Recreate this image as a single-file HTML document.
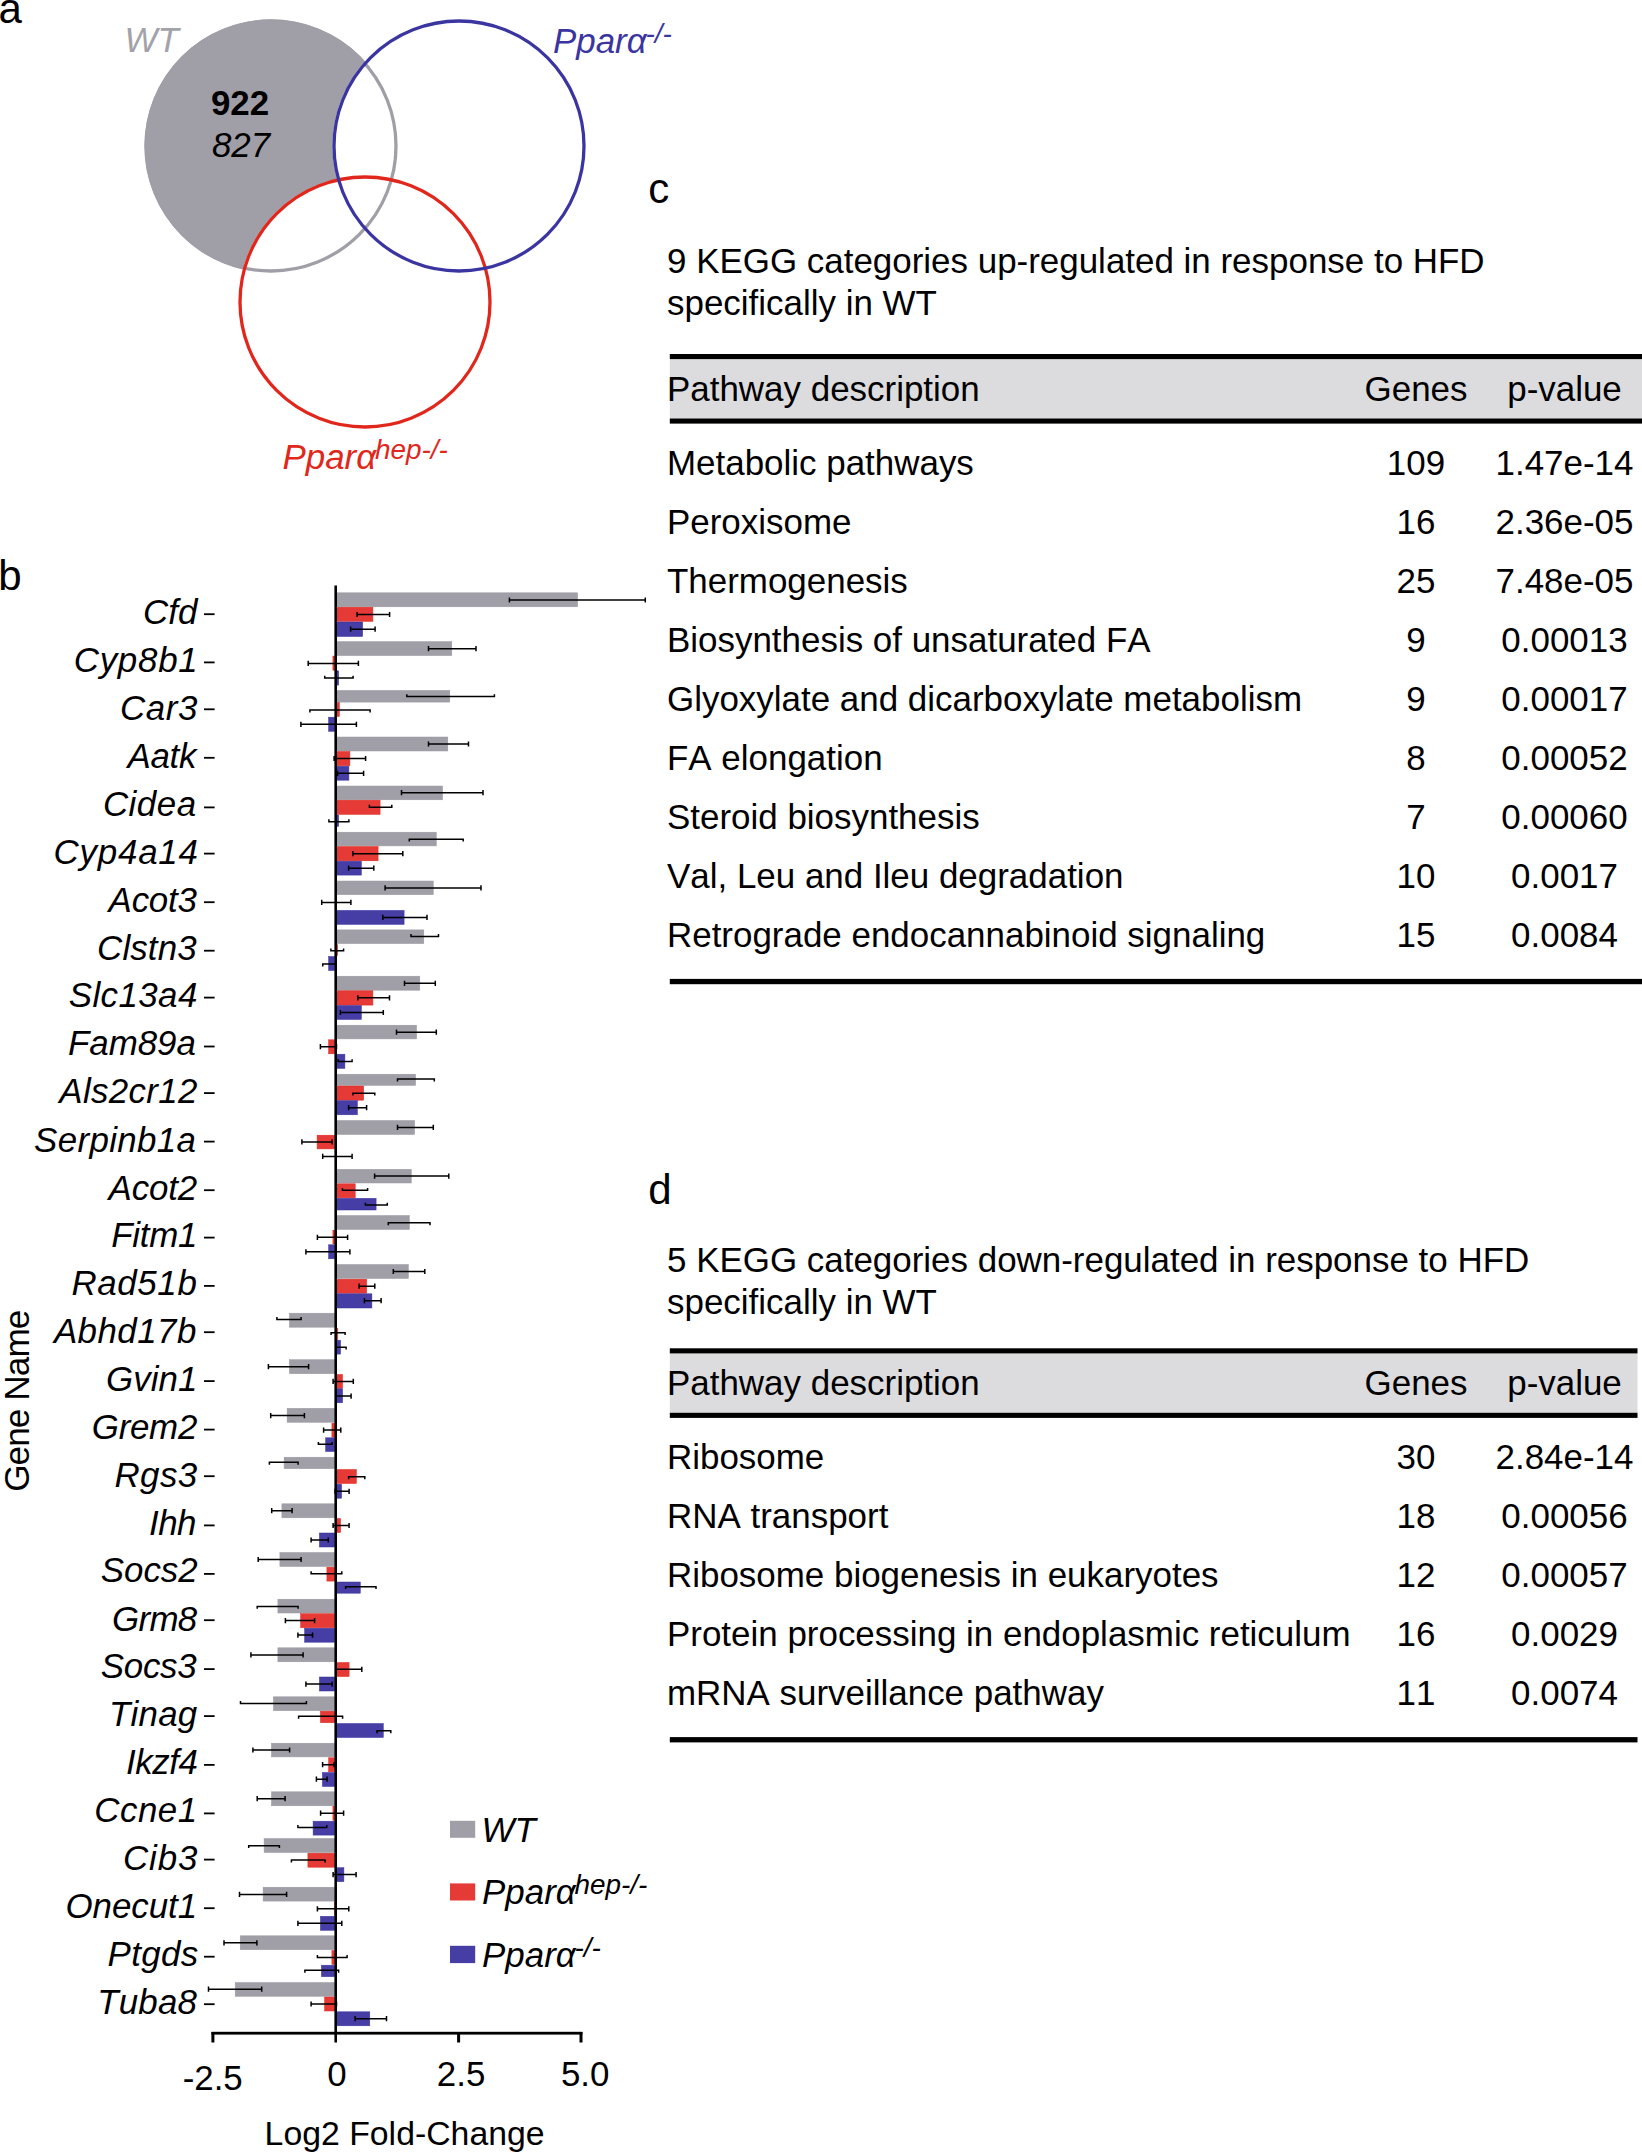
<!DOCTYPE html>
<html lang="en"><head><meta charset="utf-8"><title>Figure</title>
<style>
html,body{margin:0;padding:0;background:#fff;}
svg{display:block;font-family:"Liberation Sans",Arial,sans-serif;fill:#000;font-kerning:none;}
.g{font-style:italic;font-size:34.9px;}
.t{font-size:34.95px;font-kerning:none;}
.c{text-anchor:middle;}
.e{stroke:#000;stroke-width:1.5;fill:none;}
</style></head><body>
<svg width="1642" height="2153" viewBox="0 0 1642 2153">
<rect width="1642" height="2153" fill="#fff"/>
<defs><mask id="m"><rect width="700" height="500" fill="#fff"/><circle cx="459" cy="146" r="126.5" fill="#000"/><circle cx="365" cy="302" r="126.5" fill="#000"/></mask></defs>
<circle cx="271" cy="146" r="126.5" fill="#a09fa7" mask="url(#m)"/>
<circle cx="271" cy="146" r="125" fill="none" stroke="#a09fa7" stroke-width="3.3"/>
<circle cx="365" cy="302" r="125" fill="none" stroke="#e1261c" stroke-width="3.3"/>
<circle cx="459" cy="146" r="125" fill="none" stroke="#3b35a1" stroke-width="3.3"/>
<text x="-1.6" y="22.8" font-size="42">a</text>
<text x="124.5" y="52.4" font-size="34.9" font-style="italic" fill="#a3a2aa">WT</text>
<text x="553" y="52.9" font-size="34.9" font-style="italic" fill="#3b35a1">Ppar&#945;<tspan dy="-10" dx="-1.2" font-size="27.9">-/-</tspan></text>
<text x="282.5" y="468.5" font-size="34.9" font-style="italic" fill="#e1261c">Ppar&#945;<tspan dy="-10" dx="-1.2" font-size="27.9">hep-/-</tspan></text>
<text x="240" y="114.5" font-size="34.9" font-weight="bold" class="c">922</text>
<text x="241" y="157" font-size="34.9" font-style="italic" class="c">827</text>
<text x="-1.7" y="590.4" font-size="42">b</text>
<text transform="translate(28.8,1401.2) rotate(-90)" font-size="35.3" letter-spacing="-1" class="c">Gene Name</text>
<text class="g" x="143.1" y="624.1" style="letter-spacing:-0.05px">Cfd</text><rect x="204" y="613.3" width="10.6" height="1.8"/>
<rect x="336.8" y="592.8" width="240.8" height="14.0" fill="#a09fa7" stroke="#9a99a2" stroke-width="0.5"/><rect x="336.8" y="607.2" width="36.1" height="14.2" fill="#e53a36" stroke="#e1261c" stroke-width="0.5"/><rect x="336.8" y="622.0" width="25.9" height="14.5" fill="#463da5" stroke="#3b35a1" stroke-width="0.5"/>
<text class="g" x="73.7" y="672.1" style="letter-spacing:0.76px">Cyp8b1</text><rect x="204" y="661.5" width="10.6" height="1.8"/>
<rect x="336.8" y="641.6" width="115.0" height="14.0" fill="#a09fa7" stroke="#9a99a2" stroke-width="0.5"/><rect x="332.9" y="656.1" width="1.8" height="14.1" fill="#e53a36" stroke="#e1261c" stroke-width="0.5"/><rect x="336.8" y="670.8" width="1.9" height="14.3" fill="#463da5" stroke="#3b35a1" stroke-width="0.5"/>
<text class="g" x="119.9" y="719.7" style="letter-spacing:0.60px">Car3</text><rect x="204" y="708.4" width="10.6" height="1.8"/>
<rect x="336.8" y="690.4" width="113.0" height="11.7" fill="#a09fa7" stroke="#9a99a2" stroke-width="0.5"/><rect x="336.8" y="702.5" width="2.6" height="14.0" fill="#e53a36" stroke="#e1261c" stroke-width="0.5"/><rect x="328.6" y="717.2" width="6.0" height="14.1" fill="#463da5" stroke="#3b35a1" stroke-width="0.5"/>
<text class="g" x="127.6" y="767.9" style="letter-spacing:-0.33px">Aatk</text><rect x="204" y="756.9" width="10.6" height="1.8"/>
<rect x="336.8" y="737.0" width="111.0" height="14.0" fill="#a09fa7" stroke="#9a99a2" stroke-width="0.5"/><rect x="336.8" y="751.5" width="13.1" height="14.2" fill="#e53a36" stroke="#e1261c" stroke-width="0.5"/><rect x="336.8" y="766.2" width="12.1" height="14.0" fill="#463da5" stroke="#3b35a1" stroke-width="0.5"/>
<text class="g" x="102.9" y="815.7" style="letter-spacing:0.50px">Cidea</text><rect x="204" y="806.5" width="10.6" height="1.8"/>
<rect x="336.8" y="786.0" width="105.8" height="13.8" fill="#a09fa7" stroke="#9a99a2" stroke-width="0.5"/><rect x="336.8" y="800.2" width="43.3" height="14.2" fill="#e53a36" stroke="#e1261c" stroke-width="0.5"/><rect x="336.8" y="815.0" width="1.9" height="11.5" fill="#463da5" stroke="#3b35a1" stroke-width="0.5"/>
<text class="g" x="53.6" y="863.7" style="letter-spacing:0.78px">Cyp4a14</text><rect x="204" y="852.7" width="10.6" height="1.8"/>
<rect x="336.8" y="832.2" width="99.5" height="13.7" fill="#a09fa7" stroke="#9a99a2" stroke-width="0.5"/><rect x="336.8" y="846.5" width="41.3" height="14.3" fill="#e53a36" stroke="#e1261c" stroke-width="0.5"/><rect x="336.8" y="861.2" width="24.6" height="13.9" fill="#463da5" stroke="#3b35a1" stroke-width="0.5"/>
<text class="g" x="108.6" y="911.6" style="letter-spacing:-0.23px">Acot3</text><rect x="204" y="901.3" width="10.6" height="1.8"/>
<rect x="336.8" y="881.0" width="96.5" height="13.7" fill="#a09fa7" stroke="#9a99a2" stroke-width="0.5"/><rect x="336.8" y="910.4" width="67.3" height="14.0" fill="#463da5" stroke="#3b35a1" stroke-width="0.5"/>
<text class="g" x="97.1" y="959.7" style="letter-spacing:0.12px">Clstn3</text><rect x="204" y="949.8" width="10.6" height="1.8"/>
<rect x="336.8" y="929.9" width="87.0" height="13.7" fill="#a09fa7" stroke="#9a99a2" stroke-width="0.5"/><rect x="336.8" y="944.5" width="0.9" height="11.2" fill="#e53a36" stroke="#e1261c" stroke-width="0.5"/><rect x="328.6" y="956.5" width="6.0" height="14.0" fill="#463da5" stroke="#3b35a1" stroke-width="0.5"/>
<text class="g" x="68.7" y="1007.4" style="letter-spacing:0.43px">Slc13a4</text><rect x="204" y="996.7" width="10.6" height="1.8"/>
<rect x="336.8" y="976.2" width="83.0" height="14.0" fill="#a09fa7" stroke="#9a99a2" stroke-width="0.5"/><rect x="336.8" y="990.8" width="36.1" height="14.3" fill="#e53a36" stroke="#e1261c" stroke-width="0.5"/><rect x="336.8" y="1005.5" width="24.6" height="14.0" fill="#463da5" stroke="#3b35a1" stroke-width="0.5"/>
<text class="g" x="68.0" y="1055.2" style="letter-spacing:-0.02px">Fam89a</text><rect x="204" y="1045.6" width="10.6" height="1.8"/>
<rect x="336.8" y="1025.2" width="79.8" height="13.7" fill="#a09fa7" stroke="#9a99a2" stroke-width="0.5"/><rect x="328.6" y="1039.8" width="6.0" height="14.0" fill="#e53a36" stroke="#e1261c" stroke-width="0.5"/><rect x="336.8" y="1054.2" width="8.1" height="14.2" fill="#463da5" stroke="#3b35a1" stroke-width="0.5"/>
<text class="g" x="59.3" y="1103.2" style="letter-spacing:0.34px">Als2cr12</text><rect x="204" y="1092.2" width="10.6" height="1.8"/>
<rect x="336.8" y="1074.2" width="78.8" height="11.2" fill="#a09fa7" stroke="#9a99a2" stroke-width="0.5"/><rect x="336.8" y="1086.0" width="26.9" height="14.2" fill="#e53a36" stroke="#e1261c" stroke-width="0.5"/><rect x="336.8" y="1100.7" width="20.6" height="14.1" fill="#463da5" stroke="#3b35a1" stroke-width="0.5"/>
<text class="g" x="34.1" y="1151.7" style="letter-spacing:0.35px">Serpinb1a</text><rect x="204" y="1140.7" width="10.6" height="1.8"/>
<rect x="336.8" y="1120.5" width="77.8" height="14.0" fill="#a09fa7" stroke="#9a99a2" stroke-width="0.5"/><rect x="317.1" y="1135.2" width="17.5" height="13.7" fill="#e53a36" stroke="#e1261c" stroke-width="0.5"/>
<text class="g" x="108.6" y="1199.6" style="letter-spacing:-0.15px">Acot2</text><rect x="204" y="1189.3" width="10.6" height="1.8"/>
<rect x="336.8" y="1169.3" width="74.5" height="13.7" fill="#a09fa7" stroke="#9a99a2" stroke-width="0.5"/><rect x="336.8" y="1183.8" width="18.4" height="14.0" fill="#e53a36" stroke="#e1261c" stroke-width="0.5"/><rect x="336.8" y="1198.3" width="39.3" height="11.7" fill="#463da5" stroke="#3b35a1" stroke-width="0.5"/>
<text class="g" x="111.3" y="1247.4" style="letter-spacing:-0.25px">Fitm1</text><rect x="204" y="1236.7" width="10.6" height="1.8"/>
<rect x="336.8" y="1215.5" width="72.6" height="14.0" fill="#a09fa7" stroke="#9a99a2" stroke-width="0.5"/><rect x="332.9" y="1230.2" width="1.8" height="13.8" fill="#e53a36" stroke="#e1261c" stroke-width="0.5"/><rect x="328.6" y="1244.8" width="6.0" height="14.0" fill="#463da5" stroke="#3b35a1" stroke-width="0.5"/>
<text class="g" x="71.4" y="1295.0" style="letter-spacing:0.64px">Rad51b</text><rect x="204" y="1285.0" width="10.6" height="1.8"/>
<rect x="336.8" y="1264.5" width="71.6" height="14.0" fill="#a09fa7" stroke="#9a99a2" stroke-width="0.5"/><rect x="336.8" y="1279.2" width="29.9" height="14.0" fill="#e53a36" stroke="#e1261c" stroke-width="0.5"/><rect x="336.8" y="1293.8" width="35.1" height="14.2" fill="#463da5" stroke="#3b35a1" stroke-width="0.5"/>
<text class="g" x="53.9" y="1343.2" style="letter-spacing:0.45px">Abhd17b</text><rect x="204" y="1331.3" width="10.6" height="1.8"/>
<rect x="289.4" y="1313.2" width="45.3" height="14.0" fill="#a09fa7" stroke="#9a99a2" stroke-width="0.5"/><rect x="336.8" y="1328.2" width="1.0" height="11.5" fill="#e53a36" stroke="#e1261c" stroke-width="0.5"/><rect x="336.8" y="1340.2" width="3.8" height="13.9" fill="#463da5" stroke="#3b35a1" stroke-width="0.5"/>
<text class="g" x="105.9" y="1391.2" style="letter-spacing:0.10px">Gvin1</text><rect x="204" y="1380.2" width="10.6" height="1.8"/>
<rect x="289.4" y="1359.7" width="45.3" height="14.0" fill="#a09fa7" stroke="#9a99a2" stroke-width="0.5"/><rect x="336.8" y="1374.5" width="5.8" height="13.9" fill="#e53a36" stroke="#e1261c" stroke-width="0.5"/><rect x="336.8" y="1388.8" width="5.8" height="14.0" fill="#463da5" stroke="#3b35a1" stroke-width="0.5"/>
<text class="g" x="91.8" y="1439.0" style="letter-spacing:-0.28px">Grem2</text><rect x="204" y="1428.7" width="10.6" height="1.8"/>
<rect x="287.1" y="1408.3" width="47.5" height="14.0" fill="#a09fa7" stroke="#9a99a2" stroke-width="0.5"/><rect x="331.9" y="1423.2" width="2.8" height="13.9" fill="#e53a36" stroke="#e1261c" stroke-width="0.5"/><rect x="325.6" y="1437.8" width="9.1" height="13.7" fill="#463da5" stroke="#3b35a1" stroke-width="0.5"/>
<text class="g" x="114.5" y="1486.5" style="letter-spacing:0.40px">Rgs3</text><rect x="204" y="1475.3" width="10.6" height="1.8"/>
<rect x="284.1" y="1457.2" width="50.5" height="11.5" fill="#a09fa7" stroke="#9a99a2" stroke-width="0.5"/><rect x="336.8" y="1469.5" width="19.6" height="14.0" fill="#e53a36" stroke="#e1261c" stroke-width="0.5"/><rect x="336.8" y="1484.2" width="4.8" height="14.0" fill="#463da5" stroke="#3b35a1" stroke-width="0.5"/>
<text class="g" x="149.1" y="1534.5" style="letter-spacing:-0.60px">Ihh</text><rect x="204" y="1524.5" width="10.6" height="1.8"/>
<rect x="281.9" y="1503.8" width="52.8" height="14.0" fill="#a09fa7" stroke="#9a99a2" stroke-width="0.5"/><rect x="336.8" y="1518.5" width="3.8" height="14.0" fill="#e53a36" stroke="#e1261c" stroke-width="0.5"/><rect x="319.4" y="1533.0" width="15.3" height="14.0" fill="#463da5" stroke="#3b35a1" stroke-width="0.5"/>
<text class="g" x="100.8" y="1582.3" style="letter-spacing:-0.03px">Socs2</text><rect x="204" y="1573.0" width="10.6" height="1.8"/>
<rect x="279.9" y="1552.5" width="54.7" height="14.0" fill="#a09fa7" stroke="#9a99a2" stroke-width="0.5"/><rect x="326.9" y="1567.2" width="7.8" height="13.9" fill="#e53a36" stroke="#e1261c" stroke-width="0.5"/><rect x="336.8" y="1582.0" width="23.5" height="11.2" fill="#463da5" stroke="#3b35a1" stroke-width="0.5"/>
<text class="g" x="111.9" y="1630.5" style="letter-spacing:-0.63px">Grm8</text><rect x="204" y="1619.3" width="10.6" height="1.8"/>
<rect x="277.9" y="1599.2" width="56.7" height="13.8" fill="#a09fa7" stroke="#9a99a2" stroke-width="0.5"/><rect x="300.6" y="1613.7" width="34.0" height="14.0" fill="#e53a36" stroke="#e1261c" stroke-width="0.5"/><rect x="304.6" y="1628.2" width="30.0" height="14.0" fill="#463da5" stroke="#3b35a1" stroke-width="0.5"/>
<text class="g" x="100.8" y="1678.4" style="letter-spacing:-0.28px">Socs3</text><rect x="204" y="1668.2" width="10.6" height="1.8"/>
<rect x="277.9" y="1647.8" width="56.7" height="14.0" fill="#a09fa7" stroke="#9a99a2" stroke-width="0.5"/><rect x="336.8" y="1662.5" width="12.3" height="14.0" fill="#e53a36" stroke="#e1261c" stroke-width="0.5"/><rect x="319.4" y="1677.0" width="15.3" height="14.0" fill="#463da5" stroke="#3b35a1" stroke-width="0.5"/>
<text class="g" x="108.9" y="1726.3" style="letter-spacing:0.27px">Tinag</text><rect x="204" y="1715.2" width="10.6" height="1.8"/>
<rect x="273.4" y="1696.8" width="61.2" height="13.9" fill="#a09fa7" stroke="#9a99a2" stroke-width="0.5"/><rect x="320.4" y="1711.2" width="14.3" height="11.5" fill="#e53a36" stroke="#e1261c" stroke-width="0.5"/><rect x="336.8" y="1723.5" width="46.5" height="14.0" fill="#463da5" stroke="#3b35a1" stroke-width="0.5"/>
<text class="g" x="126.0" y="1774.2" style="letter-spacing:-0.42px">Ikzf4</text><rect x="204" y="1764.0" width="10.6" height="1.8"/>
<rect x="271.4" y="1743.2" width="63.2" height="13.7" fill="#a09fa7" stroke="#9a99a2" stroke-width="0.5"/><rect x="328.6" y="1757.8" width="6.1" height="14.0" fill="#e53a36" stroke="#e1261c" stroke-width="0.5"/><rect x="322.4" y="1772.5" width="12.3" height="14.0" fill="#463da5" stroke="#3b35a1" stroke-width="0.5"/>
<text class="g" x="94.2" y="1822.1" style="letter-spacing:0.53px">Ccne1</text><rect x="204" y="1812.5" width="10.6" height="1.8"/>
<rect x="271.4" y="1791.8" width="63.2" height="14.0" fill="#a09fa7" stroke="#9a99a2" stroke-width="0.5"/><rect x="332.9" y="1806.5" width="1.8" height="14.0" fill="#e53a36" stroke="#e1261c" stroke-width="0.5"/><rect x="313.1" y="1821.2" width="21.5" height="13.9" fill="#463da5" stroke="#3b35a1" stroke-width="0.5"/>
<text class="g" x="122.9" y="1869.9" style="letter-spacing:0.93px">Cib3</text><rect x="204" y="1858.7" width="10.6" height="1.8"/>
<rect x="264.1" y="1838.5" width="70.5" height="14.0" fill="#a09fa7" stroke="#9a99a2" stroke-width="0.5"/><rect x="307.9" y="1853.2" width="26.8" height="14.0" fill="#e53a36" stroke="#e1261c" stroke-width="0.5"/><rect x="336.8" y="1867.7" width="7.1" height="14.0" fill="#463da5" stroke="#3b35a1" stroke-width="0.5"/>
<text class="g" x="65.4" y="1917.9" style="letter-spacing:-0.02px">Onecut1</text><rect x="204" y="1907.3" width="10.6" height="1.8"/>
<rect x="263.1" y="1887.2" width="71.5" height="13.9" fill="#a09fa7" stroke="#9a99a2" stroke-width="0.5"/><rect x="334.2" y="1901.8" width="0.4" height="13.9" fill="#e53a36" stroke="#e1261c" stroke-width="0.5"/><rect x="320.4" y="1916.3" width="14.3" height="14.0" fill="#463da5" stroke="#3b35a1" stroke-width="0.5"/>
<text class="g" x="107.5" y="1965.8" style="letter-spacing:0.38px">Ptgds</text><rect x="204" y="1955.8" width="10.6" height="1.8"/>
<rect x="240.2" y="1935.8" width="94.4" height="13.9" fill="#a09fa7" stroke="#9a99a2" stroke-width="0.5"/><rect x="331.9" y="1950.5" width="2.8" height="14.0" fill="#e53a36" stroke="#e1261c" stroke-width="0.5"/><rect x="321.4" y="1965.2" width="13.3" height="11.5" fill="#463da5" stroke="#3b35a1" stroke-width="0.5"/>
<text class="g" x="97.2" y="2013.7" style="letter-spacing:0.20px">Tuba8</text><rect x="204" y="2003.3" width="10.6" height="1.8"/>
<rect x="235.2" y="1982.5" width="99.4" height="13.8" fill="#a09fa7" stroke="#9a99a2" stroke-width="0.5"/><rect x="324.6" y="1997.0" width="10.1" height="14.0" fill="#e53a36" stroke="#e1261c" stroke-width="0.5"/><rect x="336.8" y="2011.8" width="33.0" height="14.0" fill="#463da5" stroke="#3b35a1" stroke-width="0.5"/>
<rect x="334.4" y="585.5" width="2.6" height="1457" fill="#000"/>
<rect x="211.5" y="2031.8" width="370.9" height="2.8" fill="#000"/>
<rect x="211.4" y="2032" width="3" height="10.5" fill="#000"/><rect x="457.1" y="2032" width="3" height="10.5" fill="#000"/><rect x="579.5" y="2032" width="3" height="10.5" fill="#000"/>
<path class="e" d="M508.9 600.0H645.8M509.4 597.4V602.6M645.3 597.4V602.6"/><path class="e" d="M356.6 614.5H390.1M357.1 611.9V617.1M389.6 611.9V617.1"/><path class="e" d="M350.1 629.2H375.6M350.6 626.6V631.8M375.1 626.6V631.8"/>
<path class="e" d="M428.0 648.7H476.5M428.5 646.1V651.3M476.0 646.1V651.3"/><path class="e" d="M307.7 663.4H358.9M308.2 660.8V666.0M358.4 660.8V666.0"/><path class="e" d="M324.2 678.1H353.6M324.7 675.7V678.8M353.1 675.7V678.8"/>
<path class="e" d="M406.3 696.6H494.9M406.8 694.2V697.3M494.4 694.2V697.3"/><path class="e" d="M309.4 710.0H370.6M309.9 709.3V712.4M370.1 709.3V712.4"/><path class="e" d="M300.4 724.3H356.9M300.9 721.7V726.9M356.4 721.7V726.9"/>
<path class="e" d="M428.0 744.0H469.0M428.5 741.4V746.6M468.5 741.4V746.6"/><path class="e" d="M333.6 758.5H366.1M334.1 755.9V761.1M365.6 755.9V761.1"/><path class="e" d="M337.0 773.3H364.1M337.5 770.7V775.9M363.6 770.7V775.9"/>
<path class="e" d="M401.0 792.7H483.5M401.5 790.1V795.3M483.0 790.1V795.3"/><path class="e" d="M368.9 807.2H392.3M369.4 804.8V807.9M391.8 804.8V807.9"/><path class="e" d="M328.4 821.7H349.4M328.9 819.3V822.4M348.9 819.3V822.4"/>
<path class="e" d="M408.8 839.2H463.7M409.3 838.5V841.6M463.2 838.5V841.6"/><path class="e" d="M352.4 853.7H403.3M352.9 851.1V856.3M402.8 851.1V856.3"/><path class="e" d="M348.1 868.2H374.3M348.6 865.6V870.8M373.8 865.6V870.8"/>
<path class="e" d="M384.6 887.9H481.5M385.1 885.3V890.5M481.0 885.3V890.5"/><path class="e" d="M321.2 902.4H351.4M321.7 899.8V905.0M350.9 899.8V905.0"/><path class="e" d="M382.3 917.4H427.5M382.8 914.8V920.0M427.0 914.8V920.0"/>
<path class="e" d="M410.5 936.4H439.0M411.0 934.0V937.1M438.5 934.0V937.1"/><path class="e" d="M330.4 950.8H344.1M330.9 948.4V951.5M343.6 948.4V951.5"/><path class="e" d="M322.2 964.0H335.0M322.7 963.3V966.4"/>
<path class="e" d="M404.0 983.3H435.8M404.5 980.7V985.9M435.3 980.7V985.9"/><path class="e" d="M357.4 997.8H390.0M357.9 995.2V1000.4M389.5 995.2V1000.4"/><path class="e" d="M339.9 1012.5H383.8M340.4 1009.9V1015.1M383.3 1009.9V1015.1"/>
<path class="e" d="M396.0 1032.2H436.8M396.5 1029.6V1034.8M436.3 1029.6V1034.8"/><path class="e" d="M319.9 1046.7H337.0M320.4 1044.1V1049.3M336.5 1044.1V1049.3"/><path class="e" d="M337.6 1061.6H352.6M338.1 1059.2V1062.3M352.1 1059.2V1062.3"/>
<path class="e" d="M397.0 1079.0H434.8M397.5 1078.3V1081.4M434.3 1078.3V1081.4"/><path class="e" d="M352.4 1093.2H375.3M352.9 1092.5V1095.6M374.8 1092.5V1095.6"/><path class="e" d="M348.1 1107.7H367.1M348.6 1105.1V1110.3M366.6 1105.1V1110.3"/>
<path class="e" d="M397.0 1127.4H433.8M397.5 1124.8V1130.0M433.3 1124.8V1130.0"/><path class="e" d="M301.4 1141.9H332.6M301.9 1139.3V1144.5M332.1 1139.3V1144.5"/><path class="e" d="M322.2 1156.4H352.6M322.7 1153.8V1159.0M352.1 1153.8V1159.0"/>
<path class="e" d="M374.1 1176.1H449.3M374.6 1173.5V1178.7M448.8 1173.5V1178.7"/><path class="e" d="M341.9 1190.3H368.1M342.4 1187.9V1191.0M367.6 1187.9V1191.0"/><path class="e" d="M364.9 1205.1H387.8M365.4 1202.7V1205.8M387.3 1202.7V1205.8"/>
<path class="e" d="M387.8 1222.8H430.5M388.3 1222.1V1225.2M430.0 1222.1V1225.2"/><path class="e" d="M316.9 1237.3H348.1M317.4 1234.7V1239.9M347.6 1234.7V1239.9"/><path class="e" d="M305.4 1251.8H350.4M305.9 1249.2V1254.4M349.9 1249.2V1254.4"/>
<path class="e" d="M392.8 1271.5H425.3M393.3 1268.9V1274.1M424.8 1268.9V1274.1"/><path class="e" d="M358.6 1286.2H375.3M359.1 1283.6V1288.8M374.8 1283.6V1288.8"/><path class="e" d="M363.9 1300.7H381.6M364.4 1298.1V1303.3M381.1 1298.1V1303.3"/>
<path class="e" d="M276.4 1319.5H301.6M276.9 1317.1V1320.2M301.1 1317.1V1320.2"/><path class="e" d="M330.6 1332.7H345.6M331.1 1332.0V1335.1M345.1 1332.0V1335.1"/><path class="e" d="M337.0 1347.2H346.6M346.1 1346.5V1349.6"/>
<path class="e" d="M267.9 1366.7H309.1M268.4 1364.1V1369.3M308.6 1364.1V1369.3"/><path class="e" d="M332.6 1381.4H353.8M333.1 1378.8V1384.0M353.3 1378.8V1384.0"/><path class="e" d="M337.0 1396.1H351.6M351.1 1393.5V1398.7"/>
<path class="e" d="M270.2 1415.6H304.9M270.7 1413.0V1418.2M304.4 1413.0V1418.2"/><path class="e" d="M323.1 1430.1H341.3M323.6 1427.5V1432.7M340.8 1427.5V1432.7"/><path class="e" d="M317.9 1444.3H332.6M318.4 1441.9V1445.0M332.1 1441.9V1445.0"/>
<path class="e" d="M268.9 1462.3H298.6M269.4 1461.6V1464.7M298.1 1461.6V1464.7"/><path class="e" d="M348.1 1476.8H365.3M348.6 1476.1V1479.2M364.8 1476.1V1479.2"/><path class="e" d="M334.6 1491.3H349.6M335.1 1488.7V1493.9M349.1 1488.7V1493.9"/>
<path class="e" d="M271.2 1510.7H292.6M271.7 1508.1V1513.3M292.1 1508.1V1513.3"/><path class="e" d="M332.6 1525.5H349.6M333.1 1522.9V1528.1M349.1 1522.9V1528.1"/><path class="e" d="M310.6 1540.0H328.8M311.1 1537.4V1542.6M328.3 1537.4V1542.6"/>
<path class="e" d="M257.7 1559.5H301.6M258.2 1556.9V1562.1M301.1 1556.9V1562.1"/><path class="e" d="M310.6 1573.7H342.3M311.1 1571.3V1574.4M341.8 1571.3V1574.4"/><path class="e" d="M345.1 1586.7H376.5M345.6 1586.0V1589.1M376.0 1586.0V1589.1"/>
<path class="e" d="M256.7 1606.4H298.6M257.2 1605.7V1608.8M298.1 1605.7V1608.8"/><path class="e" d="M284.9 1620.6H315.1M285.4 1618.0V1623.2M314.6 1618.0V1623.2"/><path class="e" d="M297.4 1635.1H313.1M297.9 1632.5V1637.7M312.6 1632.5V1637.7"/>
<path class="e" d="M250.4 1654.9H303.6M250.9 1652.3V1657.5M303.1 1652.3V1657.5"/><path class="e" d="M337.0 1669.3H362.3M361.8 1666.7V1671.9"/><path class="e" d="M305.4 1684.1H332.6M305.9 1681.5V1686.7M332.1 1681.5V1686.7"/>
<path class="e" d="M240.0 1703.5H306.9M240.5 1701.1V1704.2M306.4 1701.1V1704.2"/><path class="e" d="M298.1 1716.3H343.1M298.6 1715.6V1718.7M342.6 1715.6V1718.7"/><path class="e" d="M376.5 1730.8H391.3M377.0 1730.1V1733.2M390.8 1730.1V1733.2"/>
<path class="e" d="M252.4 1750.0H290.1M252.9 1747.4V1752.6M289.6 1747.4V1752.6"/><path class="e" d="M322.1 1764.7H334.6M322.6 1762.1V1767.3M334.1 1762.1V1767.3"/><path class="e" d="M315.9 1779.2H327.6M316.4 1776.6V1781.8M327.1 1776.6V1781.8"/>
<path class="e" d="M256.7 1798.7H285.6M257.2 1796.1V1801.3M285.1 1796.1V1801.3"/><path class="e" d="M320.1 1813.2H344.1M320.6 1810.6V1815.8M343.6 1810.6V1815.8"/><path class="e" d="M297.4 1827.4H327.3M297.9 1825.0V1828.1M326.8 1825.0V1828.1"/>
<path class="e" d="M248.2 1845.7H279.9M248.7 1845.0V1848.1M279.4 1845.0V1848.1"/><path class="e" d="M290.9 1860.1H325.6M291.4 1859.4V1862.5M325.1 1859.4V1862.5"/><path class="e" d="M332.6 1874.6H356.6M333.1 1872.0V1877.2M356.1 1872.0V1877.2"/>
<path class="e" d="M239.0 1894.4H287.1M239.5 1891.8V1897.0M286.6 1891.8V1897.0"/><path class="e" d="M316.9 1908.8H349.3M317.4 1906.2V1911.4M348.8 1906.2V1911.4"/><path class="e" d="M297.4 1923.3H342.3M297.9 1920.7V1925.9M341.8 1920.7V1925.9"/>
<path class="e" d="M223.5 1942.8H257.4M224.0 1940.2V1945.4M256.9 1940.2V1945.4"/><path class="e" d="M316.9 1957.5H347.6M317.4 1955.1V1958.2M347.1 1955.1V1958.2"/><path class="e" d="M304.4 1970.3H339.1M304.9 1969.6V1972.7M338.6 1969.6V1972.7"/>
<path class="e" d="M208.0 1989.2H262.2M208.5 1986.6V1991.8M261.7 1986.6V1991.8"/><path class="e" d="M310.6 2004.0H337.0M311.1 2001.4V2006.6M336.5 2001.4V2006.6"/><path class="e" d="M354.6 2018.7H387.0M355.1 2016.1V2021.3M386.5 2016.1V2021.3"/>
<text x="212.7" y="2090" font-size="34.9" class="c">-2.5</text><text x="337" y="2086.4" font-size="34.9" class="c">0</text><text x="461.1" y="2086.4" font-size="34.9" class="c">2.5</text><text x="585.2" y="2086.4" font-size="34.9" class="c">5.0</text>
<text x="404.6" y="2144.7" font-size="33.8" class="c">Log2 Fold-Change</text>
<rect x="450" y="1820.8" width="25.2" height="17" fill="#a09fa7"/><rect x="450" y="1883.4" width="25.2" height="17.1" fill="#e53a36"/><rect x="450" y="1945.8" width="25.2" height="17.3" fill="#463da5"/>
<text x="481.6" y="1841.6" font-size="34.9" font-style="italic">WT</text>
<text x="482.1" y="1903.9" font-size="34.9" font-style="italic">Ppar&#945;<tspan dy="-10" dx="-1.2" font-size="27.9">hep-/-</tspan></text>
<text x="482.1" y="1966.5" font-size="34.9" font-style="italic">Ppar&#945;<tspan dy="-10" dx="-1.2" font-size="27.9">-/-</tspan></text>
<text x="648.2" y="203.4" font-size="42">c</text>
<text class="t" x="667" y="272.8">9 KEGG categories up-regulated in response to HFD</text>
<text class="t" x="667" y="314.8">specifically in WT</text>
<rect x="669.8" y="358.9" width="972.2" height="59.8" fill="#dcdcde"/><rect x="669.8" y="354.0" width="972.2" height="5.1" fill="#000"/><rect x="669.8" y="418.5" width="972.2" height="5.1" fill="#000"/>
<text class="t" x="667" y="400.6">Pathway description</text><text class="t c" x="1416" y="400.6">Genes</text><text class="t c" x="1564.5" y="400.6">p-value</text>
<text class="t" x="667" y="475.3">Metabolic pathways</text><text class="t c" x="1416" y="475.3">109</text><text class="t c" x="1564.5" y="475.3">1.47e-14</text>
<text class="t" x="667" y="534.3">Peroxisome</text><text class="t c" x="1416" y="534.3">16</text><text class="t c" x="1564.5" y="534.3">2.36e-05</text>
<text class="t" x="667" y="593.3">Thermogenesis</text><text class="t c" x="1416" y="593.3">25</text><text class="t c" x="1564.5" y="593.3">7.48e-05</text>
<text class="t" x="667" y="652.3">Biosynthesis of unsaturated FA</text><text class="t c" x="1416" y="652.3">9</text><text class="t c" x="1564.5" y="652.3">0.00013</text>
<text class="t" x="667" y="711.3">Glyoxylate and dicarboxylate metabolism</text><text class="t c" x="1416" y="711.3">9</text><text class="t c" x="1564.5" y="711.3">0.00017</text>
<text class="t" x="667" y="770.3">FA elongation</text><text class="t c" x="1416" y="770.3">8</text><text class="t c" x="1564.5" y="770.3">0.00052</text>
<text class="t" x="667" y="829.3">Steroid biosynthesis</text><text class="t c" x="1416" y="829.3">7</text><text class="t c" x="1564.5" y="829.3">0.00060</text>
<text class="t" x="667" y="888.3">Val, Leu and Ileu degradation</text><text class="t c" x="1416" y="888.3">10</text><text class="t c" x="1564.5" y="888.3">0.0017</text>
<text class="t" x="667" y="947.3">Retrograde endocannabinoid signaling</text><text class="t c" x="1416" y="947.3">15</text><text class="t c" x="1564.5" y="947.3">0.0084</text>
<rect x="669.8" y="978.9" width="972.2" height="5.3" fill="#000"/>
<text x="648.2" y="1203.8" font-size="42">d</text>
<text class="t" x="667" y="1272.0">5 KEGG categories down-regulated in response to HFD</text>
<text class="t" x="667" y="1314.0">specifically in WT</text>
<rect x="669.8" y="1353.2" width="967.7" height="59.8" fill="#dcdcde"/><rect x="669.8" y="1348.3" width="967.7" height="5.1" fill="#000"/><rect x="669.8" y="1412.8" width="967.7" height="5.1" fill="#000"/>
<text class="t" x="667" y="1394.9">Pathway description</text><text class="t c" x="1416" y="1394.9">Genes</text><text class="t c" x="1564.5" y="1394.9">p-value</text>
<text class="t" x="667" y="1469.3">Ribosome</text><text class="t c" x="1416" y="1469.3">30</text><text class="t c" x="1564.5" y="1469.3">2.84e-14</text>
<text class="t" x="667" y="1528.3">RNA transport</text><text class="t c" x="1416" y="1528.3">18</text><text class="t c" x="1564.5" y="1528.3">0.00056</text>
<text class="t" x="667" y="1587.3">Ribosome biogenesis in eukaryotes</text><text class="t c" x="1416" y="1587.3">12</text><text class="t c" x="1564.5" y="1587.3">0.00057</text>
<text class="t" x="667" y="1646.3">Protein processing in endoplasmic reticulum</text><text class="t c" x="1416" y="1646.3">16</text><text class="t c" x="1564.5" y="1646.3">0.0029</text>
<text class="t" x="667" y="1705.3">mRNA surveillance pathway</text><text class="t c" x="1416" y="1705.3">11</text><text class="t c" x="1564.5" y="1705.3">0.0074</text>
<rect x="669.8" y="1737.1" width="967.7" height="5.3" fill="#000"/>
</svg>
</body></html>
